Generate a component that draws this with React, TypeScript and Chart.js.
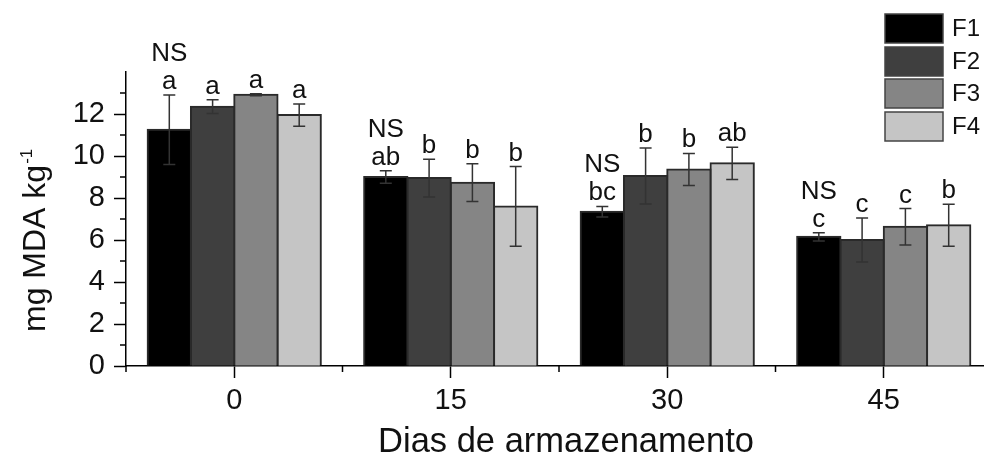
import React, { useEffect, useRef } from 'react';
import { Chart, registerables } from 'chart.js';

Chart.register(...registerables);

// ---- data ----
const categories = ['0', '15', '30', '45'];
const seriesNames = ['F1', 'F2', 'F3', 'F4'];
const seriesColors = ['#000000', '#3f3f3f', '#858585', '#c5c5c5'];

const f1Values = [11.25, 9.0, 7.35, 6.15];
const f2Values = [12.35, 8.95, 9.05, 6.0];
const f3Values = [12.92, 8.73, 9.36, 6.63];
const f4Values = [11.95, 7.6, 9.65, 6.7];

const f1Errors = [1.65, 0.3, 0.25, 0.2];
const f2Errors = [0.33, 0.9, 1.33, 1.05];
const f3Errors = [0.05, 0.9, 0.76, 0.87];
const f4Errors = [0.53, 1.9, 0.77, 1.0];

const f1Letters = ['a', 'ab', 'bc', 'c'];
const f2Letters = ['a', 'b', 'b', 'c'];
const f3Letters = ['a', 'b', 'b', 'c'];
const f4Letters = ['a', 'b', 'ab', 'b'];
const groupNotes = ['NS', 'NS', 'NS', 'NS'];

const yMin = 0;
const yMax = 14;
const yStep = 2;

const xTitle = 'Dias de armazenamento';
const yTitleMain = 'mg MDA kg';
const yTitleSup = '-1';

const allValues = [f1Values, f2Values, f3Values, f4Values];
const allErrors = [f1Errors, f2Errors, f3Errors, f4Errors];
const allLetters = [f1Letters, f2Letters, f3Letters, f4Letters];

const FONT = '"Liberation Sans", Arial, sans-serif';

const overlayPlugin = {
  id: 'overlay',
  afterDatasetsDraw(chart: any) {
    const ctx = chart.ctx as CanvasRenderingContext2D;
    const ys = chart.scales.y;
    ctx.save();
    chart.data.datasets.forEach((_ds: any, di: number) => {
      const meta = chart.getDatasetMeta(di);
      meta.data.forEach((bar: any, i: number) => {
        const v = allValues[di][i];
        const e = allErrors[di][i];
        const top = ys.getPixelForValue(v + e);
        const bot = ys.getPixelForValue(v - e);
        const x = bar.x;
        ctx.strokeStyle = '#333';
        ctx.lineWidth = 1.5;
        ctx.beginPath();
        ctx.moveTo(x, top);
        ctx.lineTo(x, bot);
        ctx.moveTo(x - 6, top);
        ctx.lineTo(x + 6, top);
        ctx.moveTo(x - 6, bot);
        ctx.lineTo(x + 6, bot);
        ctx.stroke();
        ctx.fillStyle = '#111';
        ctx.font = `26px ${FONT}`;
        ctx.textAlign = 'center';
        ctx.textBaseline = 'alphabetic';
        const base = top - 6;
        ctx.fillText(allLetters[di][i], x, base);
        if (di === 0) {
          ctx.fillText(groupNotes[i], x, base - 28);
        }
      });
    });
    ctx.restore();
  },
  afterDraw(chart: any) {
    const ctx = chart.ctx as CanvasRenderingContext2D;
    const xs = chart.scales.x;
    const ys = chart.scales.y;
    const area = chart.chartArea;
    ctx.save();
    ctx.strokeStyle = '#000';
    ctx.lineWidth = 1.5;
    // minor y ticks
    ctx.beginPath();
    for (let v = yMin + 1; v < yMax; v += yStep) {
      const py = ys.getPixelForValue(v);
      ctx.moveTo(area.left - 6, py);
      ctx.lineTo(area.left, py);
    }
    // minor x ticks at category boundaries
    const n = categories.length;
    const step = (area.right - area.left) / n;
    for (let k = 0; k <= n; k++) {
      const px = xs.getPixelForValue(0) - step / 2 + k * step;
      ctx.moveTo(px, area.bottom);
      ctx.lineTo(px, area.bottom + 6);
    }
    ctx.stroke();

    // legend
    const lx = 885;
    const lw = 58;
    const lh = 29;
    const tops = [14, 47, 79, 112];
    seriesNames.forEach((name, i) => {
      ctx.fillStyle = seriesColors[i];
      ctx.fillRect(lx, tops[i], lw, lh);
      ctx.strokeStyle = '#444';
      ctx.lineWidth = 1.5;
      ctx.strokeRect(lx, tops[i], lw, lh);
      ctx.fillStyle = '#111';
      ctx.font = `24px ${FONT}`;
      ctx.textAlign = 'left';
      ctx.textBaseline = 'middle';
      ctx.fillText(name, lx + lw + 9, tops[i] + lh / 2 + 1);
    });

    // x title
    ctx.fillStyle = '#111';
    ctx.font = `34.5px ${FONT}`;
    ctx.textAlign = 'center';
    ctx.textBaseline = 'alphabetic';
    ctx.fillText(xTitle, 566, 452);

    // y title (rotated)
    ctx.translate(45, 332);
    ctx.rotate(-Math.PI / 2);
    ctx.textAlign = 'left';
    ctx.font = `32px ${FONT}`;
    ctx.fillText(yTitleMain, 0, 0);
    const w = ctx.measureText(yTitleMain).width;
    ctx.font = `17px ${FONT}`;
    ctx.fillText(yTitleSup, w + 1, -13);
    ctx.restore();
  },
};

export default function App() {
  const canvasRef = useRef<HTMLCanvasElement | null>(null);

  useEffect(() => {
    if (!canvasRef.current) return;
    const chart = new Chart(canvasRef.current, {
      type: 'bar',
      data: {
        labels: categories,
        datasets: seriesNames.map((name, i) => ({
          label: name,
          data: allValues[i],
          backgroundColor: seriesColors[i],
          borderColor: '#2a2a2a',
          borderWidth: 2,
          inflateAmount: 1,
          categoryPercentage: 0.8,
          barPercentage: 1.0,
        })),
      },
      options: {
        animation: false,
        responsive: false,
        devicePixelRatio: 1,
        layout: { padding: { top: 72, right: 8, left: 0, bottom: 0 } },
        plugins: {
          legend: { display: false },
          tooltip: { enabled: false },
          title: { display: false },
        },
        scales: {
          x: {
            type: 'category',
            grid: {
              display: true,
              drawOnChartArea: false,
              drawTicks: true,
              tickLength: 12,
              offset: false,
              color: '#000',
              tickColor: '#000',
              tickWidth: 1.5,
            },
            border: { display: true, color: '#000', width: 1.5 },
            ticks: {
              color: '#111',
              padding: 6,
              font: { family: FONT, size: 29 },
              maxRotation: 0,
            },
            afterFit: (s: any) => {
              s.height = 89;
            },
          },
          y: {
            min: yMin,
            max: yMax,
            grid: {
              display: true,
              drawOnChartArea: false,
              drawTicks: true,
              tickLength: 12,
              color: '#000',
              tickColor: (c: any) => (c.tick && c.tick.value === yMax ? 'rgba(0,0,0,0)' : '#000'),
              tickWidth: 1.5,
            },
            border: { display: true, color: '#000', width: 1.5 },
            ticks: {
              stepSize: yStep,
              color: '#111',
              padding: 9,
              font: { family: FONT, size: 29 },
              callback: (v: any) => (Number(v) === yMax ? '' : String(v)),
            },
            afterFit: (s: any) => {
              s.width = 126;
            },
          },
        },
      },
      plugins: [overlayPlugin],
    });
    return () => chart.destroy();
  }, []);

  return (
    <div
      style={{
        position: 'absolute',
        left: 0,
        top: 0,
        width: 984,
        height: 455,
        overflow: 'hidden',
        background: '#fff',
      }}
    >
      <canvas ref={canvasRef} width={1000} height={455} style={{ width: 1000, height: 455, display: 'block' }} />
    </div>
  );
}
